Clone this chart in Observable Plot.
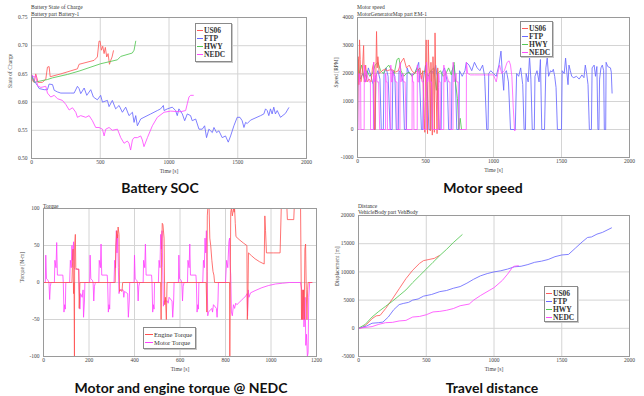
<!DOCTYPE html>
<html><head><meta charset="utf-8">
<script src="https://cdn.jsdelivr.net/npm/d3@7"></script>
<script src="https://cdn.jsdelivr.net/npm/@observablehq/plot@0.6"></script>
<style>
body{margin:0;background:#fff;}
#root{position:relative;width:644px;height:396px;overflow:hidden;font-family:"Liberation Serif",serif;background:#fff;}
.panel{position:absolute;}
.panel svg{overflow:visible;}
.ttl{position:absolute;font-size:5.5px;color:#333;line-height:6px;white-space:nowrap;}
.cap{position:absolute;font-family:Lato,"Open Sans",sans-serif;font-weight:bold;font-size:14px;color:#111;white-space:nowrap;transform:translate(-50%,-50%);}
.leg{position:absolute;background:#fff;border:1px solid #8a8a8a;box-shadow:1px 1px 0 #c8c8c8;box-sizing:border-box;padding:2px 1px;}
.row{display:flex;align-items:center;height:8px;font-size:7.5px;font-weight:bold;color:#333;white-space:nowrap;}
.row.n{font-weight:normal;font-size:6.5px;}
.sw{display:inline-block;width:6px;height:1px;margin-right:1px;}
</style>
</head><body>
<div id="root"></div>
<script>
// ---------- tick values ----------
const timeTicks2000 = [0, 500, 1000, 1500, 2000];
const timeTicks1200 = [0, 200, 400, 600, 800, 1000, 1200];
const socTicks = [0.50, 0.55, 0.60, 0.65, 0.70, 0.75];
const speedTicks = [-1000, 0, 1000, 2000, 3000, 4000];
const torqueTicks = [-100, -50, 0, 50, 100];
const distTicks = [-5000, 0, 5000, 10000, 15000, 20000];
const cycleNames = ["US06", "FTP", "HWY", "NEDC"];
const torqueNames = ["Engine Torque", "Motor Torque"];

// ---------- Battery SOC [time s, SOC] ----------
const socUS06 = [[0,0.649],[7,0.638],[19,0.635],[31,0.650],[48,0.635],[80,0.635],[104,0.641],[116,0.662],[128,0.663],[136,0.645],[213,0.650],[334,0.659],[346,0.667],[455,0.674],[479,0.680],[491,0.708],[499,0.708],[508,0.692],[518,0.699],[528,0.686],[537,0.697],[547,0.680],[557,0.686],[567,0.667],[576,0.674],[586,0.680],[596,0.691]];
const socHWY = [[0,0.647],[20,0.635],[56,0.637],[116,0.640],[153,0.643],[261,0.649],[346,0.655],[503,0.668],[625,0.675],[649,0.681],[733,0.687],[746,0.692],[758,0.708]];
const socFTP = [[0,0.649],[19,0.638],[44,0.629],[56,0.624],[92,0.622],[116,0.622],[128,0.632],[153,0.631],[165,0.621],[189,0.618],[213,0.616],[286,0.616],[310,0.616],[334,0.628],[346,0.624],[358,0.615],[383,0.625],[402,0.612],[431,0.622],[450,0.609],[479,0.604],[503,0.612],[516,0.600],[552,0.603],[564,0.592],[588,0.603],[612,0.588],[637,0.594],[661,0.582],[685,0.591],[709,0.576],[734,0.582],[746,0.564],[758,0.576],[770,0.558],[794,0.570],[818,0.573],[867,0.579],[915,0.585],[939,0.588],[959,0.594],[964,0.585],[988,0.588],[1024,0.591],[1048,0.585],[1060,0.576],[1072,0.588],[1097,0.579],[1114,0.567],[1133,0.579],[1157,0.576],[1169,0.567],[1194,0.570],[1218,0.552],[1242,0.552],[1259,0.558],[1273,0.537],[1290,0.552],[1315,0.546],[1327,0.555],[1346,0.546],[1363,0.549],[1387,0.537],[1411,0.540],[1431,0.529],[1448,0.540],[1472,0.558],[1496,0.573],[1516,0.573],[1532,0.567],[1545,0.555],[1557,0.564],[1569,0.562],[1593,0.568],[1666,0.576],[1690,0.579],[1702,0.588],[1714,0.585],[1726,0.576],[1738,0.588],[1750,0.579],[1762,0.591],[1774,0.579],[1787,0.585],[1811,0.573],[1847,0.580],[1871,0.590]];
const socNEDC = [[0,0.649],[19,0.644],[31,0.647],[44,0.629],[68,0.626],[104,0.628],[116,0.616],[140,0.609],[165,0.612],[189,0.606],[225,0.603],[249,0.596],[274,0.586],[298,0.590],[322,0.582],[334,0.573],[358,0.576],[395,0.573],[419,0.576],[443,0.567],[467,0.555],[491,0.555],[516,0.552],[528,0.540],[540,0.552],[564,0.555],[588,0.550],[625,0.552],[649,0.537],[673,0.527],[697,0.531],[709,0.527],[721,0.515],[734,0.533],[746,0.537],[770,0.537],[794,0.540],[806,0.533],[818,0.521],[843,0.537],[879,0.558],[915,0.573],[964,0.582],[1012,0.584],[1085,0.583],[1121,0.585],[1133,0.597],[1145,0.609],[1157,0.612],[1177,0.612]];

// ---------- Motor speed [time s, rpm] ----------
const spdFTP = [[0,1500],[10,2100],[20,1800],[40,2000],[60,1700],[80,2200],[100,1900],[115,1600],[120,0],[130,0],[135,1900],[150,2100],[165,1800],[175,0],[190,0],[195,2000],[210,2200],[225,1900],[240,0],[255,0],[260,2100],[275,1900],[285,0],[300,0],[305,2100],[320,2000],[335,1700],[345,0],[360,0],[365,2200],[380,2000],[400,1950],[420,2000],[440,2250],[450,2400],[455,2000],[470,0],[480,0],[485,1800],[500,2300],[510,1900],[525,0],[540,0],[545,2100],[560,2000],[575,2300],[585,1900],[600,0],[615,0],[620,2000],[640,2200],[660,1700],[670,0],[690,0],[695,2100],[710,2300],[720,1800],[730,0],[745,0],[750,2100],[770,1900],[790,2100],[800,2400],[820,2300],[840,2100],[860,2400],[880,2200],[900,2100],[920,2300],[935,1900],[950,0],[960,0],[965,2000],[980,2100],[1000,2000],[1020,1900],[1040,2300],[1055,2800],[1065,2000],[1075,1400],[1080,2000],[1095,2100],[1110,1700],[1125,0],[1160,0],[1170,2000],[1185,1900],[1200,2200],[1215,1600],[1225,0],[1235,0],[1240,2000],[1255,1700],[1265,2600],[1275,1800],[1285,0],[1300,0],[1305,1900],[1320,2100],[1335,1700],[1345,2500],[1355,0],[1375,0],[1385,2200],[1395,2550],[1405,1900],[1420,2100],[1430,2050],[1440,2150],[1450,1900],[1460,1500],[1470,0],[1500,0],[1505,2100],[1520,2000],[1530,2550],[1540,2000],[1548,1600],[1555,2300],[1565,2100],[1575,1900],[1590,1850],[1610,1900],[1630,1800],[1650,1950],[1665,1850],[1675,2300],[1685,2000],[1695,1600],[1705,0],[1720,0],[1725,2200],[1740,2300],[1750,1900],[1760,2250],[1768,0],[1775,0],[1780,1800],[1790,2200],[1800,2300],[1810,2100],[1815,0],[1825,0],[1828,2400],[1840,2250],[1860,2200],[1866,2050],[1872,1300]];
const spdHWY = [[0,0],[5,2500],[15,2000],[30,2300],[50,1800],[70,2100],[90,1900],[110,2000],[130,2300],[150,2400],[170,2100],[190,2000],[210,2200],[230,2300],[250,2100],[270,2000],[290,2500],[305,2550],[320,2100],[340,1900],[360,2000],[380,2050],[400,1900],[420,2000],[440,2200],[460,1950],[480,2050],[500,2100],[520,1900],[540,2100],[560,2200],[580,1400],[590,2000],[610,2100],[630,1900],[650,2000],[670,2200],[690,1950],[710,2400],[720,1700],[735,1100],[745,0],[755,400],[765,0]];
const spdUS06 = [[0,0],[5,2600],[10,1600],[15,3200],[20,2500],[25,1700],[35,2000],[45,3000],[50,1700],[60,2300],[70,1700],[85,1800],[100,1700],[110,2200],[120,2400],[125,0],[130,0],[135,2000],[140,3500],[145,2200],[150,2600],[160,2000],[180,2100],[200,2150],[220,2100],[250,2150],[280,2050],[300,2100],[320,2400],[340,2550],[360,2200],[380,2300],[400,2100],[420,2000],[440,2100],[460,2200],[470,1800],[480,2100],[490,400],[495,-100],[500,2000],[505,3200],[510,500],[515,-150],[520,3200],[525,2300],[530,2000],[535,-50],[540,2400],[545,1600],[550,-200],[555,2600],[560,1800],[565,-100],[570,3450],[575,2000],[580,1000],[585,-150],[590,2200],[595,1500],[600,0]];
const spdNEDC = [[0,0],[11,0],[12,2000],[16,1700],[23,1700],[25,0],[49,0],[50,2300],[55,1700],[61,1700],[62,2100],[85,1700],[95,1700],[96,0],[117,0],[118,2400],[125,1700],[140,2000],[143,1700],[155,1700],[163,0],[206,0],[207,2000],[211,1700],[218,1700],[220,0],[244,0],[245,2300],[250,1700],[256,1700],[257,2100],[280,1700],[290,1700],[291,0],[312,0],[313,2400],[320,1700],[335,2000],[338,1700],[350,1700],[358,0],[401,0],[402,2000],[406,1700],[413,1700],[415,0],[439,0],[440,2300],[445,1700],[451,1700],[452,2100],[475,1700],[485,1700],[486,0],[507,0],[508,2400],[515,1700],[530,2000],[533,1700],[545,1700],[553,0],[596,0],[597,2000],[601,1700],[608,1700],[610,0],[634,0],[635,2300],[640,1700],[646,1700],[647,2100],[670,1700],[680,1700],[681,0],[702,0],[703,2400],[710,1700],[725,2000],[728,1700],[740,1700],[748,0],[800,0],[801,2400],[810,2000],[830,1950],[860,1950],[900,1950],[950,1950],[1000,1950],[1020,1700],[1030,1950],[1045,2300],[1060,2000],[1080,2100],[1100,2400],[1115,2450],[1125,2300],[1135,1900],[1145,800],[1155,-50],[1165,0]];

// ---------- Torque @ NEDC [time s, N-m] ----------
const torqueMotor = [[0,0],[8,0],[10,37],[13,5],[20,3],[24,0],[27,-23],[30,-5],[33,0],[48,0],[50,30],[55,20],[58,54],[61,10],[85,10],[87,0],[90,-40],[93,-30],[96,-36],[98,0],[115,0],[118,30],[122,20],[125,50],[128,30],[132,55],[134,20],[140,18],[155,18],[157,-10],[160,-36],[163,-15],[170,-20],[174,-10],[176,-47],[180,-25],[182,0],[203,0],[205,37],[208,5],[215,3],[218,0],[221,-25],[224,-5],[228,0],[243,0],[245,30],[250,20],[253,52],[256,10],[280,10],[282,0],[285,-40],[288,-30],[291,-36],[293,0],[310,0],[313,30],[317,20],[320,70],[323,40],[326,65],[329,20],[332,-15],[335,-10],[350,-10],[353,-20],[356,-12],[370,-15],[373,-47],[377,-25],[379,0],[398,0],[400,37],[403,5],[410,3],[413,0],[416,-25],[419,-5],[423,0],[438,0],[440,30],[445,20],[448,52],[451,10],[475,10],[477,0],[480,-40],[483,-30],[486,-36],[488,0],[505,0],[508,30],[512,20],[515,65],[518,45],[521,70],[524,20],[527,-32],[530,-25],[545,-25],[548,-28],[552,-20],[565,-25],[568,-47],[572,-25],[574,0],[593,0],[595,37],[598,5],[605,3],[608,0],[611,-25],[614,-5],[618,0],[633,0],[635,30],[640,20],[643,52],[646,10],[670,10],[672,0],[675,-40],[678,-30],[681,-36],[683,0],[700,0],[703,30],[707,20],[710,60],[713,40],[716,70],[719,15],[722,-45],[725,-40],[740,-35],[743,-40],[747,-30],[760,-35],[763,-47],[767,-25],[769,0],[800,0],[805,30],[810,20],[815,55],[818,60],[820,25],[823,10],[826,-40],[830,-45],[835,-30],[840,-35],[845,-28],[850,-30],[860,-27],[870,-24],[880,-21],[890,-18],[895,-15],[897,-45],[900,-10],[903,-20],[910,-14],[930,-11],[960,-7],[990,-4],[1020,-2],[1050,-1],[1080,0],[1130,0],[1135,-10],[1138,-50],[1142,-10],[1145,-60],[1150,-20],[1153,-85],[1156,-70],[1160,-100],[1163,-95],[1166,-20],[1170,0],[1180,0]];
const torqueEngine = [[0,0],[125,0],[127,20],[130,45],[132,-15],[134,0],[136,-100],[137,50],[140,65],[142,20],[145,18],[155,18],[157,-35],[160,0],[315,0],[318,50],[322,70],[325,60],[328,75],[332,65],[334,-12],[337,-10],[345,-12],[348,0],[515,0],[517,-50],[519,40],[522,80],[525,78],[530,60],[533,-30],[536,-20],[540,-50],[543,0],[715,0],[718,-40],[720,90],[722,100],[725,100],[728,100],[731,60],[735,50],[740,30],[745,15],[749,10],[752,0],[815,0],[818,0],[819,-100],[821,0],[823,95],[826,100],[830,90],[835,100],[838,95],[840,100],[843,80],[846,62],[860,58],[880,53],[894,50],[896,-50],[899,-10],[901,40],[915,36],[930,32],[950,28],[970,25],[973,90],[976,70],[980,40],[1010,40],[1040,40],[1045,100],[1070,100],[1072,85],[1100,85],[1102,100],[1130,100],[1134,-50],[1137,-10],[1140,-50],[1143,-10],[1146,-50],[1149,45],[1152,52],[1155,-10],[1158,-50],[1161,-10],[1163,0],[1180,0]];

// ---------- Distance [time s, m] ----------
const distUS06 = [[0,0],[30,150],[60,700],[100,1700],[130,2200],[160,2300],[200,3500],[250,5200],[300,7000],[350,8800],[400,10300],[450,11500],[480,12000],[520,12200],[560,12400],[596,12900]];
const distHWY = [[0,0],[50,700],[100,2000],[150,3000],[200,3900],[250,4800],[300,5800],[350,6800],[400,8100],[450,9300],[500,10500],[550,11700],[600,12900],[650,14000],[700,15200],[765,16600]];
const distFTP = [[0,0],[60,400],[100,900],[150,1000],[180,1100],[220,2000],[260,3300],[300,4200],[330,4400],[370,4600],[400,5000],[440,5200],[480,5700],[540,6000],[600,6500],[650,6700],[700,7100],[750,7400],[800,8000],[850,8700],[900,9300],[950,9700],[1000,10000],[1050,10200],[1100,10500],[1150,10900],[1200,11000],[1250,11300],[1300,11700],[1350,11900],[1400,12200],[1450,12700],[1500,13000],[1550,13100],[1600,14200],[1650,15300],[1690,16100],[1720,16200],[1760,16700],[1800,17000],[1867,17800]];
const distNEDC = [[0,0],[100,300],[150,700],[200,1000],[250,1050],[300,1300],[350,1400],[400,2000],[450,2100],[500,2400],[550,2900],[600,3000],[650,3200],[700,3500],[750,4000],[817,4300],[850,5000],[900,5800],[964,6700],[1000,7200],[1062,8500],[1100,9600],[1136,10800],[1150,11000],[1180,11100]];

// ---------- drawing ----------
const C = {US06:"#ff5c5c", FTP:"#6a6aff", HWY:"#55c855", NEDC:"#ff4cff", eng:"#ff5050", mot:"#ff40ff"};
const root = document.getElementById("root");

function panel({left, top, width, height, m, xDomain, yDomain, xTicks, yTicks, yFmt, xLabel, yLabel, lines}) {
  const div = document.createElement("div");
  div.className = "panel";
  div.style.left = left + "px"; div.style.top = top + "px";
  const marks = [
    Plot.gridX(xTicks, {stroke:"#d4d4d4", strokeOpacity:1}),
    Plot.gridY(yTicks, {stroke:"#d4d4d4", strokeOpacity:1}),
    Plot.axisX(xTicks, {tickSize:0, tickPadding:2, label:null, tickFormat:d=>String(d), fill:"#444"}),
    Plot.axisY(yTicks, {tickSize:0, tickPadding:4, label:null, tickFormat:yFmt, fill:"#444"}),
    ...lines.map(l => Plot.line(l.data, {x:d=>d[0], y:d=>d[1], stroke:l.color, strokeWidth:1, strokeOpacity:l.op ?? 0.85, clip:true})),
    Plot.frame({stroke:"#9a9a9a"}),
    Plot.text([xLabel], {text:d=>d, frameAnchor:"bottom", dy:14, fontSize:5.5, fill:"#444"}),
    Plot.text([yLabel], {text:d=>d, frameAnchor:"left", rotate:-90, dx:-21, fontSize:5.5, fill:"#444"})
  ];
  const p = Plot.plot({
    width, height, marginLeft:m[0], marginRight:m[1], marginTop:m[2], marginBottom:m[3],
    x:{domain:xDomain}, y:{domain:yDomain},
    style:{fontFamily:"Liberation Serif", fontSize:"5.5px", background:"transparent", overflow:"visible"},
    marks
  });
  div.appendChild(p);
  root.appendChild(div);
}

function text(cls, str, x, y) {
  const d = document.createElement("div");
  d.className = cls; d.textContent = str;
  d.style.left = x + "px"; d.style.top = y + "px";
  root.appendChild(d);
}

function legend(x, y, w, h, names, colors, normal) {
  const d = document.createElement("div");
  d.className = "leg";
  d.style.left = x + "px"; d.style.top = y + "px"; d.style.width = w + "px"; d.style.height = h + "px";
  names.forEach((n, i) => {
    const r = document.createElement("div");
    r.className = "row" + (normal ? " n" : "");
    const s = document.createElement("span");
    s.className = "sw"; s.style.background = colors[i];
    if (normal) s.style.width = "8px";
    r.appendChild(s);
    r.appendChild(document.createTextNode(n));
    d.appendChild(r);
  });
  root.appendChild(d);
}

const fmt2 = d3.format(".2f");
const fmtI = d => String(d);

// Panel 1: Battery SOC
panel({left:0, top:0, width:322, height:180, m:[31,16,17,22], xDomain:[0,2000], yDomain:[0.5,0.75],
  xTicks:timeTicks2000, yTicks:socTicks, yFmt:fmt2, xLabel:"Time [s]", yLabel:"State of Charge",
  lines:[{data:socUS06,color:C.US06},{data:socHWY,color:C.HWY},{data:socFTP,color:C.FTP},{data:socNEDC,color:C.NEDC}]});
// Panel 2: Motor speed
panel({left:322, top:0, width:322, height:180, m:[35,15,17,23], xDomain:[0,2000], yDomain:[-1000,4000],
  xTicks:timeTicks2000, yTicks:speedTicks, yFmt:fmtI, xLabel:"Time [s]", yLabel:"Speed [RPM]",
  lines:[{data:spdFTP,color:C.FTP},{data:spdHWY,color:C.HWY},{data:spdUS06,color:C.US06},{data:spdNEDC,color:C.NEDC,op:0.75}]});
// Panel 3: Torque
panel({left:0, top:195, width:322, height:185, m:[43,6,13,24], xDomain:[0,1200], yDomain:[-100,100],
  xTicks:timeTicks1200, yTicks:torqueTicks, yFmt:fmtI, xLabel:"Time [s]", yLabel:"Torque [N-m]",
  lines:[{data:torqueMotor,color:C.mot,op:0.8},{data:torqueEngine,color:C.eng,op:0.8}]});
// Panel 4: Distance
panel({left:322, top:195, width:322, height:185, m:[36,15,20,24], xDomain:[0,2000], yDomain:[-5000,20000],
  xTicks:timeTicks2000, yTicks:distTicks, yFmt:fmtI, xLabel:"Time [s]", yLabel:"Displacement [m]",
  lines:[{data:distUS06,color:C.US06},{data:distFTP,color:C.FTP},{data:distHWY,color:C.HWY},{data:distNEDC,color:C.NEDC}]});

// Titles
text("ttl", "Battery State of Charge", 31, 4);
text("ttl", "Battery part Battery-1", 31, 11);
text("ttl", "Motor speed", 357, 4);
text("ttl", "MotorGeneratorMap part EM-1", 357, 11);
text("ttl", "Torque", 43, 203);
text("ttl", "Distance", 358, 203);
text("ttl", "VehicleBody part VehBody", 358, 209);

// Legends
const cc = [C.US06, C.FTP, C.HWY, C.NEDC];
legend(195, 23, 37, 39, cycleNames, cc, false);
legend(520, 21, 33, 36, cycleNames, cc, false);
legend(544, 286, 34, 36, cycleNames, cc, false);
legend(143, 327, 53, 22, torqueNames, [C.eng, C.mot], true);

// Captions
text("cap", "Battery SOC", 160, 187);
text("cap", "Motor speed", 483, 187);
text("cap", "Motor and engine torque @ NEDC", 181, 387);
text("cap", "Travel distance", 492, 387);
</script>
</body></html>
